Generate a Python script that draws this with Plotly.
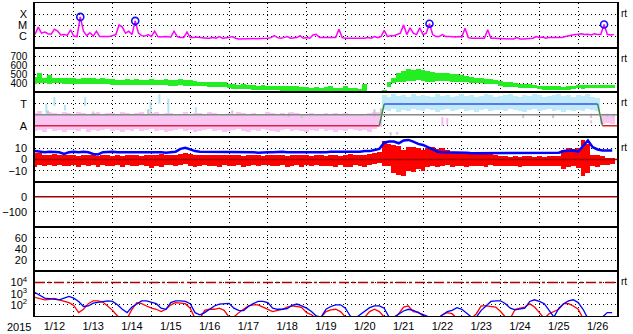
import numpy as np
import pandas as pd
import plotly.graph_objects as go
from plotly.subplots import make_subplots

# ---------------- time grids ----------------
T_START = "2015-01-12 00:00"
T_END = "2015-01-27 00:00"
t2h = pd.date_range(T_START, periods=180, freq="2h")
t3h = pd.date_range(T_START, periods=120, freq="3h")
day_label_pos = pd.date_range("2015-01-12 12:00", periods=15, freq="D")
day_labels = ["1/12", "1/13", "1/14", "1/15", "1/16", "1/17", "1/18", "1/19",
              "1/20", "1/21", "1/22", "1/23", "1/24", "1/25", "1/26"]
year_label = "2015"

# ---------------- panel 1: X-ray flux (1e-6 W/m2), 2-hourly ----------------
xray_flux = [
    1.5, 7.0, 2.0, 2.5, 1.8, 1.6, 4.5, 3.0, 1.4, 1.5, 1.3, 4.0,
    1.1, 1.0, 57, 3.0, 1.2, 2.2, 1.1, 3.0, 1.0, 1.0, 1.1, 1.0,
    1.2, 1.5, 11, 7.0, 2.0, 3.0, 1.5, 25, 2.0, 1.2, 1.1, 1.5,
    1.0, 3.0, 1.0, 0.9, 1.0, 1.0, 0.9, 3.0, 1.0, 0.8, 0.8, 2.5,
    0.8, 0.8, 0.9, 0.8, 0.7, 0.7, 0.7, 0.8, 0.7, 1.0, 0.7, 0.7,
    0.8, 1.0, 0.7, 0.6, 0.6, 0.6, 0.6, 0.6, 0.7, 0.6, 0.6, 0.7,
    0.7, 0.8, 1.2, 0.8, 0.7, 0.8, 1.0, 0.7, 0.7, 0.8, 1.2, 0.7,
    0.8, 0.7, 1.4, 1.6, 0.8, 0.8, 0.8, 0.7, 0.8, 0.8, 4.5, 0.8,
    0.7, 0.7, 0.6, 0.6, 0.7, 0.7, 0.7, 0.8, 0.7, 1.0, 0.8, 1.0,
    3.5, 1.0, 1.2, 1.2, 1.5, 2.0, 11, 1.5, 6.0, 2.0, 1.5, 6.0,
    1.5, 2.0, 14, 1.5, 1.0, 1.0, 1.5, 1.0, 1.0, 0.9, 0.9, 1.0,
    0.9, 5.5, 0.8, 0.7, 0.7, 0.7, 0.8, 0.7, 4.0, 0.7, 0.7, 0.7,
    0.6, 0.6, 0.7, 0.6, 0.6, 0.8, 0.6, 0.6, 0.6, 0.6, 0.7, 1.0,
    0.8, 0.9, 0.7, 0.8, 0.8, 0.8, 0.7, 0.8, 1.0, 1.2, 1.4, 1.5,
    1.6, 1.8, 1.5, 1.6, 1.4, 1.8, 1.5, 1.6, 12, 1.6, 1.4, 1.5,
]
flare_time = ["2015-01-13 04:00", "2015-01-14 14:00", "2015-01-22 04:00", "2015-01-26 16:00"]
flare_flux = [57, 25, 14, 12]
xray_ticks = [-4, -5, -6]
xray_ticktext = ["X", "M", "C"]

# ---------------- panel 2: solar wind speed (km/s), 3-hourly hi / lo ----------------
speed_hi = [
    480, 520, 470, 500, 470, 465, 470, 460,
    470, 455, 465, 470, 460, 455, 460, 450,
    455, 445, 445, 450, 440, 450, 445, 440,
    450, 440, 445, 455, 440, 440, 450, 440,
    440, 430, 425, 420, 420, 415, 425, 420,
    400, 395, 390, 395, 385, 385, 380, 385,
    380, 375, 375, 370, 380, 370, 370, 365,
    360, 355, 365, 355, 360, 370, 350, 355,
    375, 350, 350, 345, 400, None, None, None,
    330, 420, 470, 520, 540, 560, 555, 560,
    550, 540, 530, 520, 520, 515, 510, 505,
    495, 490, 480, 470, 460, 455, 450, 445,
    430, 420, 415, 410, 400, 400, 395, 390,
    380, 375, 375, 370, 370, 365, 370, 375,
    390, 385, 390, 385, 385, 390, 385, 385,
]
speed_lo = [
    400, 405, 410, 400, 405, 405, 400, 400,
    395, 400, 400, 400, 400, 395, 395, 400,
    390, 390, 385, 390, 385, 385, 390, 385,
    385, 390, 390, 385, 380, 380, 385, 380,
    375, 375, 370, 370, 365, 360, 365, 360,
    350, 345, 345, 340, 340, 335, 335, 335,
    330, 325, 325, 320, 320, 320, 315, 320,
    315, 310, 310, 305, 310, 310, 305, 305,
    310, 305, 305, 305, 305, None, None, None,
    305, 360, 410, 420, 425, 430, 430, 440,
    430, 425, 425, 430, 430, 430, 425, 420,
    420, 415, 410, 410, 405, 400, 400, 395,
    370, 365, 360, 360, 355, 355, 350, 350,
    340, 335, 335, 330, 330, 330, 335, 340,
    350, 345, 350, 350, 350, 355, 350, 350,
]
speed_ticks = [400, 500, 600, 700]

# ---------------- panel 3: IMF sector (T=+1, A=-1), 3-hourly hi / lo ----------------
N = None
away_hi = [
    0.1, 0.3, 0.0, 0.2, 0.1, 0.0, 0.2, 0.1,
    0.0, 0.2, 0.1, -0.1, 0.1, 0.2, 0.0, 0.1,
    0.1, 0.0, 0.2, 0.1, -0.1, 0.1, 0.2, 0.0,
    0.1, 0.2, 0.0, 0.1, 0.1, -0.1, 0.0, 0.2,
    0.0, 0.1, 0.1, 0.0, 0.2, 0.1, 0.0, -0.1,
    0.1, 0.0, 0.2, 0.1, 0.0, 0.1, -0.1, 0.0,
    0.2, 0.1, 0.0, 0.1, 0.0, 0.2, 0.1, 0.0,
    0.0, 0.1, -0.1, 0.0, 0.1, 0.0, 0.1, 0.0,
    0.1, 0.0, 0.0, -0.1, 0.0, 0.1, 0.2, 0.2,
    N, N, N, N, N, N, N, N,
    N, N, N, N, N, N, N, N,
    N, N, N, N, N, N, N, N,
    N, N, N, N, N, N, N, N,
    N, N, N, N, N, N, N, N,
    N, N, N, N, N, -0.1, 0.0, -0.1,
]
away_lo = [
    -1.5, -1.4, -1.6, -1.3, -1.5, -1.4, -1.6, -1.4,
    -1.4, -1.5, -1.3, -1.6, -1.4, -1.5, -1.4, -1.3,
    -1.5, -1.4, -1.6, -1.4, -1.5, -1.3, -1.5, -1.4,
    -1.3, -1.5, -1.4, -1.6, -1.5, -1.4, -1.3, -1.5,
    -1.4, -1.6, -1.5, -1.4, -1.3, -1.5, -1.4, -1.6,
    -1.5, -1.4, -1.3, -1.5, -1.6, -1.4, -1.5, -1.3,
    -1.4, -1.5, -1.6, -1.4, -1.3, -1.5, -1.4, -1.5,
    -1.6, -1.4, -1.5, -1.3, -1.5, -1.4, -1.6, -1.4,
    -1.5, -1.3, -1.4, -1.5, -1.4, -1.6, -1.3, -1.2,
    N, N, N, N, N, N, N, N,
    N, N, N, N, N, N, N, N,
    N, N, N, N, N, N, N, N,
    N, N, N, N, N, N, N, N,
    N, N, N, N, N, N, N, N,
    N, N, N, N, N, -0.9, -0.8, -0.9,
]
toward_hi = [N] * 72 + [
    1.8, 1.6, 1.9, 1.7, 1.8, 1.6, 1.9, 1.7,
    1.8, 1.7, 1.6, 1.9, 1.7, 1.8, 1.6, 1.7,
    1.9, 1.7, 1.8, 1.6, 1.7, 1.9, 1.8, 1.6,
    1.7, 1.8, 1.9, 1.7, 1.6, 1.8, 1.7, 1.9,
    1.8, 1.6, 1.7, 1.8, 1.9, 1.7, 1.8, 1.6,
    1.8, 1.7, 1.9, 1.6, 1.5, N, N, N,
]
toward_lo = [N] * 72 + [
    0.4, 0.3, 0.5, 0.2, 0.4, 0.3, 0.5, 0.4,
    0.3, 0.5, 0.4, 0.2, 0.4, 0.5, 0.3, 0.4,
    0.5, 0.3, 0.4, 0.2, 0.4, 0.5, 0.3, 0.4,
    0.4, 0.3, 0.5, 0.4, 0.3, 0.2, 0.4, 0.5,
    0.3, 0.4, 0.5, 0.3, 0.4, 0.2, 0.4, 0.3,
    0.4, 0.3, 0.5, 0.4, 0.3, N, N, N,
]
toward_spike_time = ["2015-01-12 07:00", "2015-01-12 12:00", "2015-01-12 18:30", "2015-01-13 07:00",
                     "2015-01-14 23:30", "2015-01-15 05:00", "2015-01-15 10:30", "2015-01-16 03:30"]
toward_spike_lo = [0.1, 0.8, 0.4, 0.8, 0.1, 1.0, 0.1, 0.1]
toward_spike_hi = [1.0, 1.6, 0.9, 1.6, 1.2, 1.9, 1.5, 0.7]
away_spike_time = ["2015-01-22 12:00", "2015-01-22 15:00", "2015-01-26 08:00"]
away_spike_lo = [-1.0, -0.9, -0.8]
away_spike_hi = [-0.2, -0.3, -0.5]
gray_time = ["2015-01-12 08:00", "2015-01-13 12:00", "2015-01-14 22:00", "2015-01-17 02:00",
             "2015-01-18 13:00", "2015-01-18 21:00", "2015-01-20 18:00", "2015-01-20 22:00",
             "2015-01-21 04:00", "2015-01-21 08:00", "2015-01-24 14:00", "2015-01-25 08:30",
             "2015-01-26 08:00", "2015-01-26 18:00", "2015-01-26 22:00"]
gray_lo = [0.0, -0.1, 0.0, 0.1, -0.2, -0.3, -0.2, 0.0, -1.9, -1.8, -0.3, -0.3, -0.3, -0.2, -0.2]
gray_hi = [0.4, 0.3, 0.5, 0.4, 0.2, 0.0, 0.5, 0.6, -1.6, -1.6, 0.0, 0.0, 0.1, 0.1, 0.1]
sector_time = ["2015-01-12 00:00", "2015-01-20 21:00", "2015-01-21 00:00",
               "2015-01-26 12:00", "2015-01-26 15:00", "2015-01-27 00:00"]
sector_val = [-1, -1, 1, 1, -1, -1]
sector_seg_color = ["#dd2244", "#3a8a4a", "#3b55e0", "#3a8a4a", "#dd2222"]

# ---------------- panel 4: IMF Bt / Bz (nT), 3-hourly ----------------
bt = [
    7.5, 7, 6.5, 7, 7, 6.5, 5, 6.5,
    7, 6.5, 7, 6.5, 5, 4.5, 6.5, 7,
    7, 6.5, 6.5, 6.5, 7, 6.5, 7, 6.5,
    6.5, 7, 6.5, 6, 6.5, 7, 9.5, 10.5,
    9, 7.5, 7, 7, 6.5, 7, 6.5, 7,
    7, 6.5, 6.5, 6.5, 7, 6.5, 6, 6.5,
    6.5, 6.5, 7, 7, 6.5, 6.5, 6, 6,
    6, 6.5, 6, 6, 6.5, 7, 7, 6.5,
    6.5, 7, 7, 7, 7.5, 7.5, 8.5, 9.5,
    15, 16, 16, 14.5, 17, 17.5, 16, 14,
    13, 11, 8.5, 7, 6.5, 6.5, 6, 6,
    6, 6, 5.5, 5.5, 6, 6, 6, 5.5,
    5.5, 5.5, 6, 5.5, 5.5, 5.5, 5.5, 6,
    6, 6, 6, 6, 6, 7.5, 8, 8,
    7, 12, 17, 11, 9, 8, 8, 8,
]
bz_hi = [
    6, 6, 4, 4, 4.5, 4, 3.5, 4,
    4, 3, 4, 3.5, 4, 3, 4, 3.5,
    3, 4, 3, 4, 3.5, 4, 3, 4,
    4, 3.5, 4.5, 4, 3.5, 4, 5, 6,
    5, 4, 3.5, 4, 4, 3.5, 4, 3.5,
    3.5, 4, 3.5, 3, 3.5, 4, 3.5, 3,
    3.5, 3.5, 4, 3.5, 3, 3.5, 4, 3.5,
    4, 3, 3.5, 4, 3, 3.5, 4, 3,
    4, 4.5, 4, 3.5, 4, 4.5, 6, 7,
    16, 14, 13, 12, 8, 11, 11, 10,
    8, 10, 11, 9, 10, 8, 7, 6,
    5.5, 6, 5, 5.5, 6, 5, 5, 4,
    3, 3, 2.5, 3, 2.5, 3, 3, 2.5,
    3, 2.5, 3, 3, 3, 8, 10, 9,
    10, 17, 14, 4, 4, 3, 1.5, 1.5,
]
bz_lo = [
    -6.5, -5, -6, -5, -6, -5, -6, -5.5,
    -5, -6.5, -5, -6, -5, -6.5, -5, -6,
    -6, -5, -6.5, -5, -5.5, -6, -5, -6,
    -7.5, -6, -6.5, -5, -5, -6, -5, -4.5,
    -6, -7, -6, -5, -6, -5.5, -6.5, -5,
    -6, -5.5, -5, -6.5, -6, -5, -5.5, -5,
    -5, -5.5, -6, -5, -6.5, -6, -5, -6.5,
    -5, -5.5, -5, -6, -5.5, -6, -6.5, -5,
    -6.5, -6.5, -5, -6, -6.5, -5, -4, -3,
    -6, -6, -12, -14, -15, -10, -11, -9,
    -10, -7, -6, -6.5, -6, -5, -6.5, -6,
    -6, -6.5, -6, -5.5, -6, -6.5, -5, -6,
    -6, -6, -5.5, -6, -6.5, -5.5, -6, -6,
    -6, -5.5, -6, -6, -5.5, -9, -7, -6,
    -8, -15, -12, -6, -6.5, -5, -5, -4.5,
]
b_ticks = [-10, 0, 10]

# ---------------- panels 5/6: Dst (nT) and index (no data in period) ----------------
dst_ticks = [-100, 0]
idx_ticks = [20, 40, 60]

# ---------------- panel 7: electron flux, 3-hourly ----------------
e_red = [
    457, 355, 282, 316, 372, 282, 224, 158,
    89, 20, 40, 126, 229, 229, 178, 79,
    32, 10, 6, 6, 40, 158, 126, 79,
    50, 40, 25, 40, 100, 158, 141, 126,
    50, 6, 6, 32, 40, 40, 50, 32,
    8, 8, 20, 40, 79, 100, 100, 63,
    40, 25, 32, 40, 63, 79, 71, 56,
    20, 13, 6, 8, 25, 35, 40, 25,
    8, 6, 6, 6, 8, 25, 40, 25,
    8, 6, 6, 16, 63, 79, 25, 22,
    10, 6, 6, 6, 13, 20, 16, 6,
    6, 6, 6, 16, 79, 79, 71, 63,
    25, 8, 6, 40, 50, 63, 126, 63,
    20, 6, 16, 25, 40, 126, 126, 79,
    40, 6, 6, 6, 6, 6, 6, 6,
]
e_blue = [
    1260, 710, 400, 355, 316, 282, 400, 560,
    400, 200, 71, 79, 141, 158, 200, 229,
    200, 100, 40, 20, 63, 126, 224, 224,
    178, 126, 50, 40, 158, 229, 224, 200,
    126, 20, 13, 20, 40, 79, 117, 135,
    135, 50, 32, 30, 71, 126, 200, 200,
    158, 50, 40, 40, 45, 89, 117, 79,
    50, 25, 10, 8, 40, 71, 100, 100,
    50, 10, 6, 13, 25, 56, 79, 79,
    50, 8, 8, 16, 28, 40, 32, 20,
    13, 8, 6, 6, 13, 25, 32, 56,
    40, 20, 8, 8, 32, 79, 200, 229,
    229, 126, 50, 35, 40, 50, 200, 282,
    200, 126, 32, 8, 50, 126, 224, 282,
    158, 40, 6, 6, 6, 8, 20, 20,
]
e_threshold = 1e4
e_ticks = [2, 3, 4]
e_ticktext = ["10<sup>2</sup>", "10<sup>3</sup>", "10<sup>4</sup>"]


# ---------------- helpers ----------------
def arr(a):
    return np.array([np.nan if v is None else v for v in a], dtype=float)


def segs(times, lo, hi):
    xs, ys = [], []
    for t, a, b in zip(times, lo, hi):
        xs += [t, t, None]
        ys += [a, b, None]
    return xs, ys


BAR_W = 3 * 3600 * 1000
FONT = "Liberation Sans, Arial, sans-serif"

fig = make_subplots(rows=7, cols=1, shared_xaxes=False, vertical_spacing=0)

# panel 1
fig.add_trace(go.Scatter(x=t2h, y=np.log10(arr(xray_flux) * 1e-6), mode="lines",
                         line=dict(color="#ff00ff", width=1.5)), row=1, col=1)
fig.add_trace(go.Scatter(x=pd.to_datetime(flare_time), y=np.log10(arr(flare_flux) * 1e-6), mode="markers",
                         marker=dict(symbol="circle-open", size=7, color="#1010ff", line=dict(width=1.6))),
              row=1, col=1)

# panel 2
s_lo, s_hi = arr(speed_lo), arr(speed_hi)
fig.add_trace(go.Bar(x=t3h, base=s_lo, y=s_hi - s_lo, width=BAR_W,
                     marker=dict(color="#22ee22", line=dict(width=0))), row=2, col=1)

# panel 3
a_lo, a_hi = arr(away_lo), arr(away_hi)
fig.add_trace(go.Bar(x=t3h, base=a_lo, y=a_hi - a_lo, width=BAR_W,
                     marker=dict(color="#f9c6f4", line=dict(width=0))), row=3, col=1)
w_lo, w_hi = arr(toward_lo), arr(toward_hi)
fig.add_trace(go.Bar(x=t3h, base=w_lo, y=w_hi - w_lo, width=BAR_W,
                     marker=dict(color="#bfeaf9", line=dict(width=0))), row=3, col=1)
sx, sy = segs(pd.to_datetime(toward_spike_time), toward_spike_lo, toward_spike_hi)
fig.add_trace(go.Scatter(x=sx, y=sy, mode="lines", line=dict(color="#b0e6f8", width=2)), row=3, col=1)
sx, sy = segs(pd.to_datetime(away_spike_time), away_spike_lo, away_spike_hi)
fig.add_trace(go.Scatter(x=sx, y=sy, mode="lines", line=dict(color="#f6b8f0", width=2)), row=3, col=1)
sx, sy = segs(pd.to_datetime(gray_time), gray_lo, gray_hi)
fig.add_trace(go.Scatter(x=sx, y=sy, mode="lines", line=dict(color="#c8c8c8", width=2)), row=3, col=1)

# panel 4
z_lo, z_hi = arr(bz_lo), arr(bz_hi)
fig.add_trace(go.Bar(x=t3h, base=z_lo, y=z_hi - z_lo, width=BAR_W,
                     marker=dict(color="#ff0000", line=dict(width=0))), row=4, col=1)

# panels 5 / 6: no data available in this period (axes only)
fig.add_trace(go.Scatter(x=[], y=[], mode="lines"), row=5, col=1)
fig.add_trace(go.Scatter(x=[], y=[], mode="lines"), row=6, col=1)

# reference lines drawn above the data
fig.add_shape(type="line", xref="x3 domain", x0=0, x1=1, yref="y3", y0=0, y1=0,
              line=dict(color="#888888", width=1.5), layer="above")
fig.add_shape(type="line", xref="x4 domain", x0=0, x1=1, yref="y4", y0=0, y1=0,
              line=dict(color="#a00000", width=1.5), layer="above")
fig.add_shape(type="line", xref="x5 domain", x0=0, x1=1, yref="y5", y0=0, y1=0,
              line=dict(color="#a00000", width=1.5), layer="above")
fig.add_shape(type="line", xref="x7 domain", x0=0, x1=1, yref="y7",
              y0=np.log10(e_threshold), y1=np.log10(e_threshold),
              line=dict(color="#b00000", width=1.5, dash="10px,3px,3px,3px"), layer="above")

# sector polarity step line and Bt on top
st = pd.to_datetime(sector_time)
for i, c in enumerate(sector_seg_color):
    fig.add_trace(go.Scatter(x=st[i:i + 2], y=sector_val[i:i + 2], mode="lines",
                             line=dict(color=c, width=1.5)), row=3, col=1)
fig.add_trace(go.Scatter(x=t3h, y=bt, mode="lines", line=dict(color="#0000ff", width=2.5)), row=4, col=1)

# panel 7
fig.add_trace(go.Scatter(x=t3h, y=np.log10(arr(e_red)), mode="lines",
                         line=dict(color="#ff0000", width=1.3)), row=7, col=1)
fig.add_trace(go.Scatter(x=t3h, y=np.log10(arr(e_blue)), mode="lines",
                         line=dict(color="#0000ff", width=1.3)), row=7, col=1)

# axes
GRID = dict(showgrid=True, gridcolor="black", griddash="1px,3px", gridwidth=1)
for r in range(1, 8):
    fig.update_xaxes(row=r, col=1, type="date", range=[T_START, T_END],
                     showline=True, mirror=True, linecolor="black", linewidth=1,
                     showgrid=False, zeroline=False, tickmode="array",
                     tickvals=day_label_pos, ticktext=day_labels,
                     showticklabels=(r == 7), ticks="",
                     tickfont=dict(family=FONT, size=11, color="black"),
                     minor=dict(tick0=T_START, dtick=86400000, ticks="", **GRID))

yconf = [
    dict(range=[-7, -3], tickvals=xray_ticks, ticktext=xray_ticktext),
    dict(range=[300, 800], tickvals=speed_ticks, tickfont=dict(family=FONT, size=10, color="black")),
    dict(range=[-2.05, 2.05], tickvals=[1, -1], ticktext=["T", "A"]),
    dict(range=[-20, 20], tickvals=b_ticks),
    dict(range=[-200, 100], tickvals=dst_ticks),
    dict(range=[0, 80], tickvals=idx_ticks),
    dict(range=[1, 5], tickvals=e_ticks, ticktext=e_ticktext),
]
for r, c in enumerate(yconf, start=1):
    base = dict(showline=True, mirror=True, linecolor="black", linewidth=1.5, zeroline=False,
                tickmode="array", ticks="outside", ticklen=4, tickcolor="rgba(0,0,0,0)",
                tickfont=dict(family=FONT, size=11, color="black"), fixedrange=True, **GRID)
    base.update(c)
    fig.update_yaxes(row=r, col=1, **base)

annotations = [dict(text=year_label, xref="paper", yref="paper", x=-16 / 585, y=0,
                    xanchor="center", yanchor="top", yshift=-3, showarrow=False,
                    font=dict(family=FONT, size=11, color="black"))]
for ax in ["y", "y2", "y3", "y4", "y7"]:
    annotations.append(dict(text="rt", xref="paper", yref=ax + " domain", x=1, y=1,
                            xanchor="left", yanchor="top", xshift=2, yshift=-3, showarrow=False,
                            font=dict(family=FONT, size=10, color="black")))

fig.update_layout(width=633, height=334, margin=dict(l=32, r=16, t=2, b=17),
                  paper_bgcolor="white", plot_bgcolor="white", showlegend=False,
                  barmode="overlay", bargap=0, annotations=annotations,
                  font=dict(family=FONT, size=11, color="black"))

fig.write_html("out.html")
